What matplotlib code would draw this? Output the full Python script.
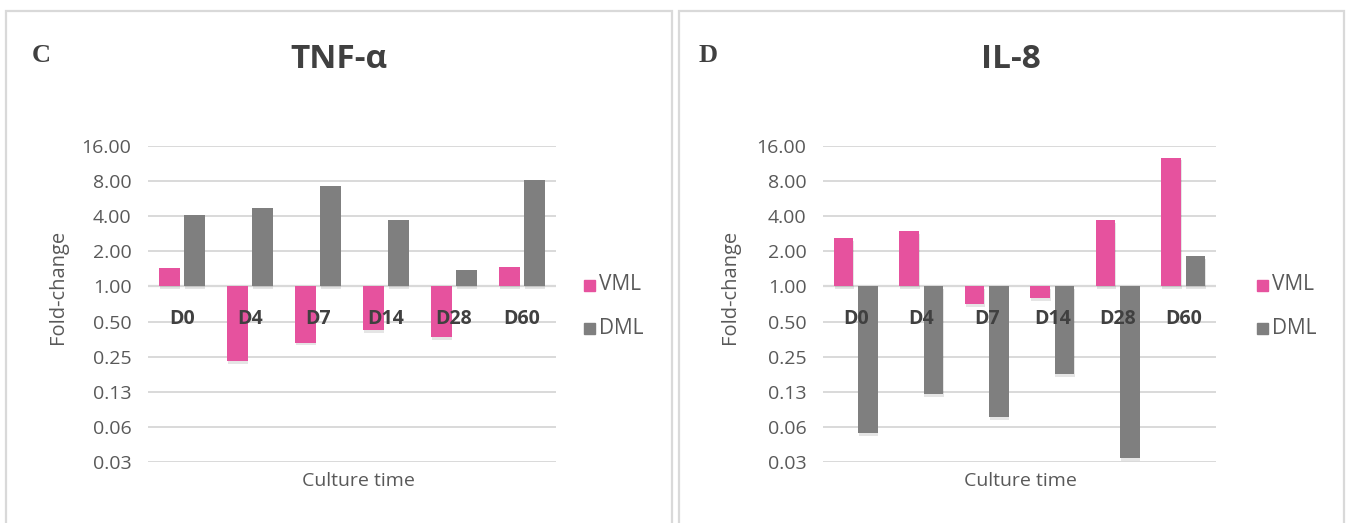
import matplotlib
matplotlib.use("Agg")
import matplotlib.pyplot as plt
import matplotlib.patheffects as pe
from matplotlib.patches import Rectangle
import numpy as np

categories = ["D0", "D4", "D7", "D14", "D28", "D60"]
series_names = ["VML", "DML"]

tnf_vml = [1.44, 0.23, 0.33, 0.42, 0.37, 1.47]
tnf_dml = [4.1, 4.7, 7.2, 3.7, 1.39, 8.1]

il8_vml = [2.6, 3.0, 0.71, 0.80, 3.7, 12.7]
il8_dml = [0.055, 0.12, 0.076, 0.178, 0.034, 1.81]

tick_vals = [0.03125, 0.0625, 0.125, 0.25, 0.5, 1, 2, 4, 8, 16]
tick_labels = ["0.03", "0.06", "0.13", "0.25", "0.50", "1.00", "2.00", "4.00", "8.00", "16.00"]

PINK = "#E6529E"
GRAY = "#7F7F7F"
TXT = "#595959"
GRID = "#D9D9D9"
FONT = "Open Sans"

W, H = 1346, 523
fig = plt.figure(figsize=(W / 100, H / 100), dpi=100)


def px_axes(x0, x1, ytop, ybot):
    return fig.add_axes([x0 / W, 1 - ybot / H, (x1 - x0) / W, (ybot - ytop) / H])


def ftext(x, y, s, **kw):
    fig.text(x / W, 1 - y / H, s, **kw)


# panel borders
for (x0, x1) in [(6, 672), (679, 1344)]:
    fig.patches.append(Rectangle((x0 / W, -0.05), (x1 - x0) / W, 1.05 - 11 / H,
                                 transform=fig.transFigure, fill=False,
                                 edgecolor=GRID, lw=1.6))

panels = [
    dict(vml=tnf_vml, dml=tnf_dml, title="TNF-α", letter="C",
         x0=148, x1=556, letter_x=32, title_x=339, label_x=58,
         leg_x=584, ct_x=358),
    dict(vml=il8_vml, dml=il8_dml, title="IL-8", letter="D",
         x0=823, x1=1216, letter_x=699, title_x=1011, label_x=730,
         leg_x=1257, ct_x=1020),
]

shadow = [pe.SimplePatchShadow(offset=(0.5, -2), shadow_rgbFace="#000000", alpha=0.10), pe.Normal()]

for p in panels:
    ax = px_axes(p["x0"], p["x1"], 146, 462)
    ax.set_yscale("log", base=2)
    ax.set_ylim(tick_vals[0], tick_vals[-1])
    ax.set_xlim(-0.5, len(categories) - 0.5)
    x = np.arange(len(categories))
    for vals, off, col in [(p["vml"], -0.185, PINK), (p["dml"], 0.185, GRAY)]:
        v = np.array(vals)
        bars = ax.bar(x + off, v - 1, bottom=1, width=0.30, color=col, zorder=3)
        for b in bars:
            b.set_path_effects(shadow)
    ax.set_yticks(tick_vals)
    ax.set_yticklabels(tick_labels)
    ax.yaxis.set_minor_locator(matplotlib.ticker.NullLocator())
    ax.tick_params(axis="y", length=0, pad=12, labelsize=14, labelcolor=TXT)
    for lab in ax.get_yticklabels():
        lab.set_fontfamily(FONT)
    ax.set_xticks([])
    ax.grid(axis="y", color=GRID, lw=1.4, zorder=0)
    for s in ax.spines.values():
        s.set_visible(False)
    ax.axhline(1, color=GRID, lw=1.6, zorder=2)
    for i, c in enumerate(categories):
        ax.text(i, 0.53, c, ha="center", va="center", fontsize=14,
                fontweight="bold", color="#404040", family=FONT, zorder=4)
    ax.patch.set_alpha(0)

    ftext(p["letter_x"], 56, p["letter"], fontsize=19, fontweight="bold",
          family="Liberation Serif", color="#404040", ha="left", va="center")
    ftext(p["title_x"], 60, p["title"], fontsize=24, fontweight="bold",
          family=FONT, color="#404040", ha="center", va="center")
    ftext(p["label_x"], 287, "Fold-change", rotation=90, fontsize=14.5,
          family=FONT, color=TXT, ha="center", va="center")
    ftext(p["ct_x"], 481, "Culture time", fontsize=14,
          family=FONT, color=TXT, ha="center", va="center")
    for name, col, yy in [("VML", PINK, 285), ("DML", GRAY, 328)]:
        fig.patches.append(Rectangle(((p["leg_x"]) / W, 1 - (yy + 5.5) / H), 11 / W, 11 / H,
                                     transform=fig.transFigure, color=col))
        ftext(p["leg_x"] + 15, yy, name, fontsize=15, family=FONT, color=TXT,
              ha="left", va="center")

fig.savefig("out.png", dpi=100, facecolor="white")
